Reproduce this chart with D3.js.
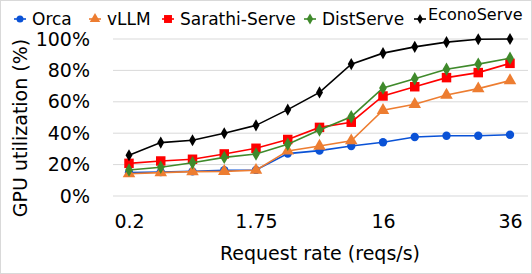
<!DOCTYPE html>
<html>
<head>
<meta charset="utf-8">
<script src="https://cdn.jsdelivr.net/npm/d3@7"></script>
<style>
  body { margin: 0; background: #fff; }
  svg { display: block; font-family: "DejaVu Sans", sans-serif; }
</style>
</head>
<body>
<div id="chart"></div>
<script>
// request rate points (only some are labelled on the axis)
var rateLabels = ["0.2", "", "", "", "1.75", "", "", "", "16", "", "", "", "36"]

var orca       = [14.9, 15.3, 15.7, 16.4, 16.6, 27.0, 28.9, 31.8, 34.2, 37.6, 38.4, 38.4, 39.0]
var vllm       = [14.2, 14.9, 15.5, 15.7, 16.4, 28.7, 31.8, 35.2, 54.6, 58.4, 64.3, 68.4, 73.5]
var sarathi    = [20.8, 22.3, 23.4, 26.8, 30.4, 36.0, 43.7, 47.0, 63.7, 69.6, 75.4, 78.6, 84.5]
var distserve  = [16.6, 18.3, 21.2, 24.6, 26.8, 33.0, 42.0, 50.5, 68.8, 74.7, 80.7, 84.0, 87.7]
var econoserve = [26.0, 34.0, 35.5, 40.0, 45.0, 55.0, 66.0, 84.0, 91.0, 95.0, 98.0, 99.8, 100.0]

var yTicks = [0, 20, 40, 60, 80, 100]

var series = [
    { name: "Orca",          values: orca,       color: "#0a52d6", shape: d3.symbolCircle,   size: 55 },
    { name: "vLLM",          values: vllm,       color: "#ed7d31", shape: d3.symbolTriangle, size: 68 },
    { name: "Sarathi-Serve", values: sarathi,    color: "#ff0000", shape: d3.symbolSquare,   size: 90 },
    { name: "DistServe",     values: distserve,  color: "#3f8a2b", shape: d3.symbolDiamond,  size: 52 },
    { name: "EconoServe",    values: econoserve, color: "#000000", shape: d3.symbolDiamond,  size: 42 },
]

var width = 532, height = 274

var svg = d3.select("#chart").append("svg")
    .attr("width", width)
    .attr("height", height)

svg.append("rect")
    .attr("x", 0.5).attr("y", 0.5)
    .attr("width", width - 1).attr("height", height - 1)
    .attr("fill", "white")
    .attr("stroke", "#d9d9d9")

var x = d3.scalePoint()
    .domain(d3.range(rateLabels.length))
    .range([129, 510])

var y = d3.scaleLinear()
    .domain([0, 100])
    .range([196, 39])

// gridlines
svg.append("g")
    .selectAll("line")
    .data(yTicks)
    .enter()
    .append("line")
    .attr("x1", 113)
    .attr("x2", 528)
    .attr("y1", d => y(d))
    .attr("y2", d => y(d))
    .attr("stroke", "#d9d9d9")
    .attr("stroke-width", 1)

// y axis labels
var yAxis = svg.append("g")
    .attr("transform", "translate(90,0)")
    .call(d3.axisLeft(y).tickValues(yTicks).tickFormat(d => d + "%").tickSize(0).tickPadding(0))
yAxis.select(".domain").remove()
yAxis.selectAll("text")
    .attr("font-size", 19)
    .attr("font-family", "DejaVu Sans")
    .attr("fill", "#000")

// x axis labels
var xAxis = svg.append("g")
    .attr("transform", "translate(0,214)")
    .call(d3.axisBottom(x).tickFormat(i => rateLabels[i]).tickSize(0).tickPadding(0))
xAxis.select(".domain").remove()
xAxis.selectAll("text")
    .attr("font-size", 19)
    .attr("font-family", "DejaVu Sans")
    .attr("fill", "#000")

// axis titles
svg.append("text")
    .attr("x", 320)
    .attr("y", 260)
    .attr("text-anchor", "middle")
    .attr("font-size", 19)
    .text("Request rate (reqs/s)")

svg.append("text")
    .attr("transform", "translate(27,128) rotate(-90)")
    .attr("text-anchor", "middle")
    .attr("font-size", 19)
    .text("GPU utilization (%)")

// lines and markers
var line = d3.line()
    .x((d, i) => x(i))
    .y(d => y(d))

series.forEach(function(s) {
    var g = svg.append("g")
    g.append("path")
        .attr("d", line(s.values))
        .attr("fill", "none")
        .attr("stroke", s.color)
        .attr("stroke-width", 1.6)
    g.selectAll("path.mark")
        .data(s.values)
        .enter()
        .append("path")
        .attr("class", "mark")
        .attr("transform", (d, i) => "translate(" + x(i) + "," + y(d) + ")")
        .attr("d", d3.symbol().type(s.shape).size(s.size))
        .attr("fill", s.color)
})

// legend
var legendX = [20, 95, 168, 310, 420]
series.forEach(function(s, i) {
    var lx = legendX[i]
    var ly = 19
    var g = svg.append("g")
    g.append("line")
        .attr("x1", lx - 6).attr("x2", lx + 6)
        .attr("y1", ly).attr("y2", ly)
        .attr("stroke", s.color)
        .attr("stroke-width", 1.6)
    g.append("path")
        .attr("transform", "translate(" + lx + "," + ly + ")")
        .attr("d", d3.symbol().type(s.shape).size(s.size * 0.7))
        .attr("fill", s.color)
    var small = s.name === "EconoServe"
    g.append("text")
        .attr("x", lx + (small ? 8 : 12))
        .attr("y", small ? 20 : 25)
        .attr("font-size", small ? 16 : 17)
        .text(s.name)
})
</script>
</body>
</html>
